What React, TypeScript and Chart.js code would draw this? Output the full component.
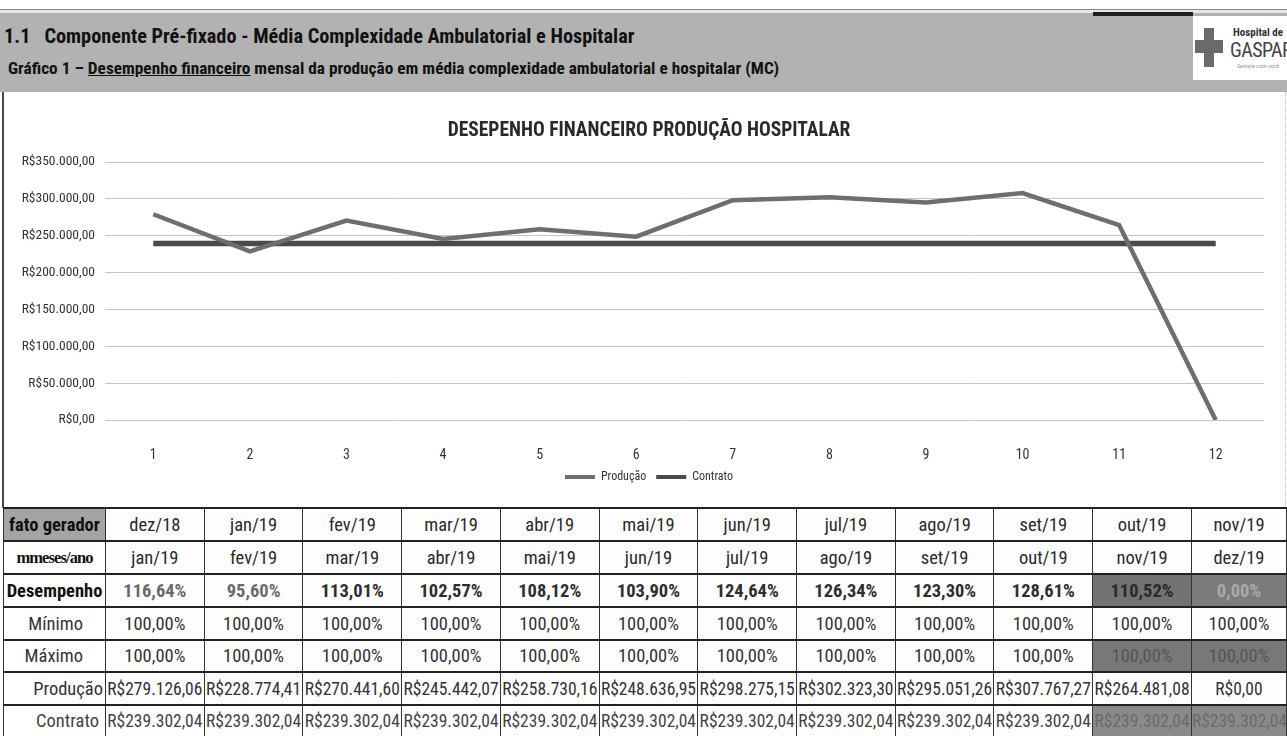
import React, { useEffect, useRef } from "react";
import { Chart, registerables } from "chart.js";

Chart.register(...registerables);

// ---- data ----
const xLabels = ["1", "2", "3", "4", "5", "6", "7", "8", "9", "10", "11", "12"];
const producao = [
  279126.06, 228774.41, 270441.6, 245442.07, 258730.16, 248636.95,
  298275.15, 302323.3, 295051.26, 307767.27, 264481.08, 0,
];
const contrato = [
  239302.04, 239302.04, 239302.04, 239302.04, 239302.04, 239302.04,
  239302.04, 239302.04, 239302.04, 239302.04, 239302.04, 239302.04,
];
const fatoGerador = [
  "dez/18", "jan/19", "fev/19", "mar/19", "abr/19", "mai/19",
  "jun/19", "jul/19", "ago/19", "set/19", "out/19", "nov/19",
];
const mesesAno = [
  "jan/19", "fev/19", "mar/19", "abr/19", "mai/19", "jun/19",
  "jul/19", "ago/19", "set/19", "out/19", "nov/19", "dez/19",
];
const desempenho = [116.64, 95.6, 113.01, 102.57, 108.12, 103.9, 124.64, 126.34, 123.3, 128.61, 110.52, 0];
const minimo = [100, 100, 100, 100, 100, 100, 100, 100, 100, 100, 100, 100];
const maximo = [100, 100, 100, 100, 100, 100, 100, 100, 100, 100, 100, 100];

const NARROW = "'Roboto Condensed', 'Liberation Sans Narrow', 'DejaVu Sans Condensed', sans-serif";

function groupThousands(s: string) {
  return s.replace(/\B(?=(\d{3})+(?!\d))/g, ".");
}
function brl(v: number) {
  const [i, d] = v.toFixed(2).split(".");
  return "R$" + groupThousands(i) + "," + d;
}
function pct(v: number) {
  return v.toFixed(2).replace(".", ",") + "%";
}

// let the y tick labels extend into the left padding instead of being clipped
const widenYLabelArea = {
  id: "widenYLabelArea",
  afterLayout(chart: any) {
    const y = chart.scales.y;
    if (y) y.left = 0;
  },
};

// ---- chart ----
function LineChart() {
  const ref = useRef<HTMLCanvasElement | null>(null);
  useEffect(() => {
    if (!ref.current) return;
    const chart = new Chart(ref.current, {
      type: "line",
      data: {
        labels: xLabels,
        datasets: [
          {
            label: "Produção",
            data: producao,
            borderColor: "#6e6e6e",
            backgroundColor: "#6e6e6e",
            borderWidth: 4.5,
            pointRadius: 0,
            tension: 0,
          },
          {
            label: "Contrato",
            data: contrato,
            borderColor: "#4a4a4a",
            backgroundColor: "#4a4a4a",
            borderWidth: 5.5,
            pointRadius: 0,
            tension: 0,
          },
        ],
      },
      plugins: [widenYLabelArea],
      options: {
        animation: false,
        responsive: false,
        layout: { padding: { left: 30, right: 23, top: 0, bottom: 14 } },
        plugins: {
          title: {
            display: true,
            text: "DESEPENHO FINANCEIRO PRODUÇÃO HOSPITALAR",
            color: "#2a2a2a",
            font: { family: NARROW, size: 19.5, weight: "bold", lineHeight: 1.2 },
            padding: { top: 27, bottom: 19.6 },
          },
          legend: {
            position: "bottom",
            labels: {
              boxWidth: 30,
              boxHeight: 4,
              padding: 10,
              color: "#333",
              font: { family: NARROW, size: 12 },
              generateLabels: (c: any) =>
                Chart.defaults.plugins.legend.labels
                  .generateLabels(c)
                  .map((it: any) => ({ ...it, lineWidth: 0 })),
            },
          },
          tooltip: { enabled: false },
        },
        scales: {
          x: {
            offset: true,
            grid: { display: false, offset: true },
            border: { display: false },
            ticks: { padding: 19, color: "#333", font: { family: NARROW, size: 14 } },
            afterFit: (s: any) => {
              s.height = 41;
            },
          },
          y: {
            min: 0,
            max: 350000,
            ticks: {
              stepSize: 50000,
              padding: 10,
              color: "#333",
              font: { family: NARROW, size: 13.5 },
              callback: (v: any) => brl(Number(v)),
            },
            grid: { color: "#c4c4c4", drawTicks: false },
            border: { display: false },
            afterFit: (s: any) => {
              s.width = 71;
            },
          },
        },
      },
    });
    return () => chart.destroy();
  }, []);
  return <canvas ref={ref} width={1283} height={415} style={{ display: "block" }} />;
}

// ---- table ----
type CellStyle = { bg?: string; color?: string; bold?: boolean };

const firstColW = 102;
const lastColW = 95;
const dataColW = (1191 - 105) / 11;

const hBorder = "2.5px solid #222";
const vBorder = "1.5px solid #333";

function Row({
  label,
  labelStyle,
  values,
  cellStyles,
  height,
  valueFont,
}: {
  label: string;
  labelStyle: React.CSSProperties;
  values: string[];
  cellStyles?: (i: number) => CellStyle;
  height: number;
  valueFont?: React.CSSProperties;
}) {
  const cellBase: React.CSSProperties = {
    borderLeft: vBorder,
    borderRight: vBorder,
    borderTop: hBorder,
    borderBottom: hBorder,
    padding: 0,
    height,
    lineHeight: "20px",
    whiteSpace: "nowrap",
    overflow: "hidden",
    boxSizing: "border-box",
  };
  return (
    <tr>
      <td style={{ ...cellBase, ...labelStyle }}>{label}</td>
      {values.map((v, i) => {
        const st = cellStyles ? cellStyles(i) : {};
        return (
          <td
            key={i}
            style={{
              ...cellBase,
              textAlign: "center",
              background: st.bg || "#fdfdfd",
              color: st.color || "#2a2a2a",
              fontWeight: st.bold ? "bold" : "normal",
              ...valueFont,
            }}
          >
            {v}
          </td>
        );
      })}
    </tr>
  );
}

function DataTable() {
  const cols = [firstColW, ...Array.from({ length: 11 }, () => dataColW), lastColW];
  const base: React.CSSProperties = { fontFamily: NARROW, fontSize: 18.5, color: "#222" };
  return (
    <table
      style={{
        position: "absolute",
        left: 3,
        top: 507,
        width: 1284,
        borderCollapse: "collapse",
        tableLayout: "fixed",
        ...base,
      }}
    >
      <colgroup>
        {cols.map((w, i) => (
          <col key={i} style={{ width: w }} />
        ))}
      </colgroup>
      <tbody>
        <Row
          height={33}
          label="fato gerador"
          labelStyle={{ background: "#a4a4a4", fontWeight: "bold", textAlign: "center", fontSize: 18.5, color: "#111" }}
          values={fatoGerador}
        />
        <Row
          height={33}
          label="mmeses/ano"
          labelStyle={{
            fontFamily: "'Liberation Serif', serif",
            fontWeight: "bold",
            fontSize: 16.5,
            textAlign: "center",
            color: "#111",
            letterSpacing: -0.9,
          }}
          values={mesesAno}
        />
        <Row
          height={33}
          label="Desempenho"
          labelStyle={{ fontWeight: "bold", textAlign: "center", fontSize: 18.5, color: "#111" }}
          values={desempenho.map(pct)}
          cellStyles={(i) =>
            i === 10
              ? { bg: "#727272", color: "#2a2a2a", bold: true }
              : i === 11
              ? { bg: "#7c7c7c", color: "#a9a9a9", bold: true }
              : { bold: true, color: i < 2 ? "#6a6a6a" : "#2e2e2e" }
          }
        />
        <Row
          height={33}
          label="Mínimo"
          labelStyle={{ textAlign: "right", paddingRight: 22, color: "#333" }}
          values={minimo.map(pct)}
          cellStyles={() => ({ color: "#333" })}
        />
        <Row
          height={32}
          label="Máximo"
          labelStyle={{ textAlign: "right", paddingRight: 22, color: "#333" }}
          values={maximo.map(pct)}
          cellStyles={(i) => (i >= 10 ? { bg: "#787878", color: "#555" } : { color: "#333" })}
        />
        <Row
          height={33}
          label="Produção"
          labelStyle={{ textAlign: "right", paddingRight: 2, color: "#333" }}
          values={producao.map(brl)}
          valueFont={{ fontSize: 17.5 }}
          cellStyles={() => ({ color: "#333" })}
        />
        <Row
          height={32}
          label="Contrato"
          labelStyle={{ textAlign: "right", paddingRight: 6, color: "#444" }}
          values={contrato.map(brl)}
          valueFont={{ fontSize: 17.5 }}
          cellStyles={(i) => (i >= 10 ? { bg: "#8a8a8a", color: "#6a6a6a" } : { color: "#444" })}
        />
      </tbody>
    </table>
  );
}

// ---- page ----
export default function App() {
  return (
    <div
      style={{
        position: "absolute",
        left: 0,
        top: 0,
        width: 1287,
        height: 736,
        overflow: "hidden",
        background: "#fff",
        fontFamily: NARROW,
      }}
    >
      {/* top rule */}
      <div style={{ position: "absolute", left: 0, top: 9, width: 1287, height: 4, borderTop: "1px solid #888", borderBottom: "1px solid #999", background: "#e6e6e6" }} />
      {/* header band */}
      <div style={{ position: "absolute", left: 0, top: 13, width: 1287, height: 79, background: "#b2b2b2" }} />
      <div style={{ position: "absolute", left: 1093, top: 12, width: 100, height: 4, background: "#1e1e1e" }} />
      <div
        style={{
          position: "absolute",
          left: 4,
          top: 23,
          fontSize: 20.3,
          fontWeight: "bold",
          color: "#111",
          whiteSpace: "nowrap",
          lineHeight: "26px",
        }}
      >
        1.1&nbsp;&nbsp; Componente Pré-fixado - Média Complexidade Ambulatorial e Hospitalar
      </div>
      <div
        style={{
          position: "absolute",
          left: 8,
          top: 58,
          fontSize: 17.3,
          fontWeight: "bold",
          color: "#111",
          whiteSpace: "nowrap",
          lineHeight: "20px",
        }}
      >
        Gráfico 1 – <span style={{ textDecoration: "underline" }}>Desempenho financeiro</span> mensal da produção em média complexidade ambulatorial e hospitalar (MC)
      </div>
      {/* logo */}
      <div style={{ position: "absolute", left: 1193, top: 16, width: 94, height: 64, background: "#fff", overflow: "hidden" }}>
        <div style={{ position: "absolute", left: 11, top: 12, width: 10, height: 39, background: "#6a6a6a" }} />
        <div style={{ position: "absolute", left: 2, top: 24, width: 28, height: 13, background: "#6a6a6a" }} />
        <div style={{ position: "absolute", left: 40, top: 10, fontSize: 11, fontWeight: "bold", color: "#333", whiteSpace: "nowrap" }}>
          Hospital de
        </div>
        <div style={{ position: "absolute", left: 37, top: 22, fontSize: 20, color: "#444", whiteSpace: "nowrap", letterSpacing: -0.6 }}>
          GASPAR
        </div>
        <div style={{ position: "absolute", left: 44, top: 46, fontSize: 6, color: "#999", whiteSpace: "nowrap" }}>
          Sempre com você
        </div>
      </div>
      {/* chart panel */}
      <div style={{ position: "absolute", left: 2, top: 92, width: 2, height: 416, background: "#4a4a4a" }} />
      <div style={{ position: "absolute", left: 1285, top: 92, width: 1, height: 416, borderLeft: "1px dotted #bbb" }} />
      <div style={{ position: "absolute", left: 4, top: 92, width: 1283, height: 415 }}>
        <LineChart />
      </div>
      <DataTable />
    </div>
  );
}
